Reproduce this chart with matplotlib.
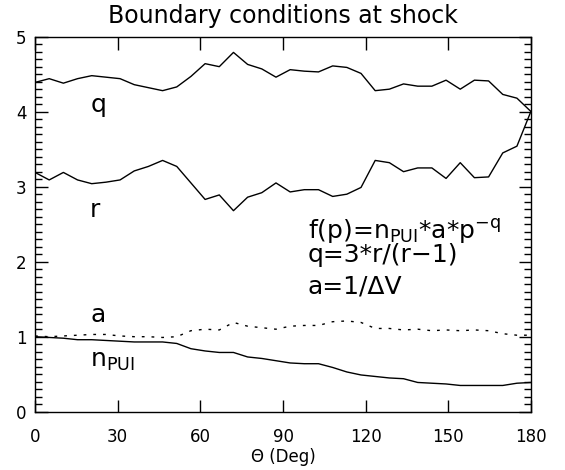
import numpy as np
import matplotlib
matplotlib.use("Agg")
import matplotlib.pyplot as plt
from matplotlib.ticker import MultipleLocator

# angle grid (36 points from 0 to 180 deg)
theta = np.linspace(0, 180, 36)

q = [4.39, 4.44, 4.38, 4.44, 4.48, 4.46, 4.44, 4.36, 4.32, 4.28,
     4.33, 4.47, 4.64, 4.60, 4.79, 4.63, 4.57, 4.46, 4.56, 4.54,
     4.53, 4.61, 4.59, 4.51, 4.28, 4.30, 4.37, 4.34, 4.34, 4.42,
     4.30, 4.42, 4.41, 4.23, 4.18, 4.00]

r = [3.19, 3.09, 3.19, 3.09, 3.04, 3.06, 3.09, 3.21, 3.27, 3.35,
     3.27, 3.05, 2.83, 2.89, 2.68, 2.86, 2.92, 3.05, 2.93, 2.96,
     2.96, 2.87, 2.90, 2.99, 3.35, 3.32, 3.20, 3.25, 3.25, 3.11,
     3.32, 3.12, 3.13, 3.45, 3.54, 4.01]

a = [1.01, 1.00, 1.01, 1.02, 1.03, 1.03, 1.01, 1.00, 1.00, 0.99,
     1.00, 1.08, 1.10, 1.09, 1.19, 1.14, 1.12, 1.10, 1.14, 1.15,
     1.15, 1.20, 1.21, 1.19, 1.11, 1.11, 1.09, 1.10, 1.08, 1.09,
     1.08, 1.09, 1.08, 1.04, 1.02, 1.02]

n_pui = [1.00, 0.99, 0.98, 0.96, 0.96, 0.95, 0.94, 0.93, 0.93, 0.93,
         0.91, 0.84, 0.81, 0.79, 0.79, 0.73, 0.71, 0.68, 0.65, 0.64,
         0.64, 0.59, 0.53, 0.49, 0.47, 0.45, 0.44, 0.39, 0.38, 0.37,
         0.35, 0.35, 0.35, 0.35, 0.38, 0.39]

xticks = [0, 30, 60, 90, 120, 150, 180]
yticks = [0, 1, 2, 3, 4, 5]

fig = plt.figure(figsize=(5.65, 4.7), dpi=100)
ax = fig.add_axes([0.062, 0.124, 0.878, 0.798])

lw = 1.0
ax.plot(theta, q, color="black", lw=lw)
ax.plot(theta, r, color="black", lw=lw)
ax.plot(theta, a, color="black", lw=lw, dashes=(2, 5))
ax.plot(theta, n_pui, color="black", lw=lw)

# curve labels
ax.text(20, 4.0, "q", fontsize=18)
ax.text(20, 2.6, "r", fontsize=18)
ax.text(20, 1.2, "a", fontsize=18)
ax.text(20, 0.6, r"n$_{\mathregular{PUI}}$", fontsize=18)

ax.text(99, 2.31, r"f(p)=n$_{\mathregular{PUI}}$*a*p$^{\mathregular{-q}}$", fontsize=18)
ax.text(99, 1.99, "q=3*r/(r\u22121)", fontsize=18)
ax.text(99, 1.58, "a=1/\u0394V", fontsize=18)

ax.set_xlim(0, 180)
ax.set_ylim(0, 5)
ax.set_xticks(xticks)
ax.set_yticks(yticks)
ax.yaxis.set_minor_locator(MultipleLocator(0.1))
ax.tick_params(which="both", direction="in", top=True, right=True,
               labelsize=12, width=1)
ax.tick_params(which="major", length=9)
ax.tick_params(which="minor", length=5)
ax.tick_params(axis="x", pad=12)
ax.tick_params(axis="y", pad=6)
for s in ax.spines.values():
    s.set_linewidth(1)

ax.set_xlabel("\u0398 (Deg)", fontsize=12, labelpad=1)
ax.set_title("Boundary conditions at shock", fontsize=17, pad=10)

fig.savefig("out.png", dpi=100)
